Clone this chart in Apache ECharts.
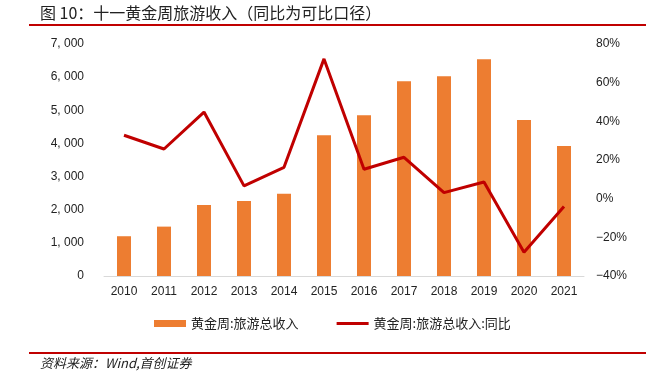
<!DOCTYPE html>
<html>
<head>
<meta charset="utf-8">
<script src="https://cdn.jsdelivr.net/npm/echarts@6/dist/echarts.min.js"></script>
<style>
html,body{margin:0;padding:0;background:#fff;}
#c{width:662px;height:386px;}
</style>
</head>
<body>
<div id="c"></div>
<script>
const years = ['2010','2011','2012','2013','2014','2015','2016','2017','2018','2019','2020','2021'];
const revenue = [1200, 1490, 2140, 2260, 2480, 4245, 4850, 5875, 6025, 6540, 4710, 3920];
const yoy = [32.8, 25.7, 44.8, 6.6, 16.2, 72.3, 15.2, 21.4, 3.1, 8.6, -27.7, -4.1];
const barName = '黄金周:旅游总收入';
const lineName = '黄金周:旅游总收入:同比';
const titleText = '图 10：十一黄金周旅游收入（同比为可比口径）';
const sourceText = '资料来源：Wind,首创证券';

const chart = echarts.init(document.getElementById('c'), null, {renderer:'canvas'});
const font = '"Noto Sans CJK SC", "Noto Sans", sans-serif';
chart.setOption({
  animation: false,
  backgroundColor: '#fff',
  title: {
    text: titleText, left: 35, top: 0,
    textStyle: {fontSize: 16, fontWeight: 'normal', color: '#222', fontFamily: font}
  },
  graphic: [
    {type:'rect', shape:{x:29, y:24, width:617, height:2}, style:{fill:'#C00000'}},
    {type:'rect', shape:{x:29, y:352, width:617, height:2}, style:{fill:'#C00000'}},
    {type:'text', left: 40, top: 357, style:{text: sourceText, fontSize: 13, fontStyle:'italic', fill:'#222', fontFamily: font}}
  ],
  legend: {
    left: 149, top: 312, itemGap: 38, itemWidth: 32, itemHeight: 7,
    textStyle: {fontSize: 13, color: '#222', fontFamily: font},
    data: [
      {name: barName, icon: 'rect'},
      {name: lineName, icon: 'path://M0,0 L32,0 L32,3 L0,3 Z'}
    ]
  },
  grid: {left: 104, right: 78, top: 44, bottom: 110},
  xAxis: {
    type: 'category', data: years,
    axisLine: {lineStyle: {color: '#D9D9D9'}},
    axisTick: {show: false},
    axisLabel: {color: '#222', fontSize: 12, margin: 10, fontFamily: '"Liberation Sans", Arial, sans-serif'}
  },
  yAxis: [
    {
      type: 'value', min: 0, max: 7000, interval: 1000,
      splitLine: {show: false}, axisLine: {show: false}, axisTick: {show: false},
      axisLabel: {color: '#222', fontSize: 12, margin: 20, fontFamily: '"Liberation Sans", Arial, sans-serif',
        formatter: v => v === 0 ? '0' : (v/1000) + ', ' + '000'}
    },
    {
      type: 'value', min: -40, max: 80, interval: 20,
      splitLine: {show: false}, axisLine: {show: false}, axisTick: {show: false},
      axisLabel: {color: '#222', fontSize: 12, margin: 12, align: 'left', fontFamily: '"Liberation Sans", Arial, sans-serif',
        formatter: v => (v < 0 ? '\u2212' + (-v) : v) + '%'}
    }
  ],
  series: [
    {
      name: barName, type: 'bar', data: revenue, barWidth: 14,
      itemStyle: {color: '#ED7D31'}
    },
    {
      name: lineName, type: 'line', yAxisIndex: 1, data: yoy,
      symbol: 'none', lineStyle: {color: '#C00000', width: 3}, itemStyle: {color: '#C00000'}
    }
  ]
});
</script>
</body>
</html>
